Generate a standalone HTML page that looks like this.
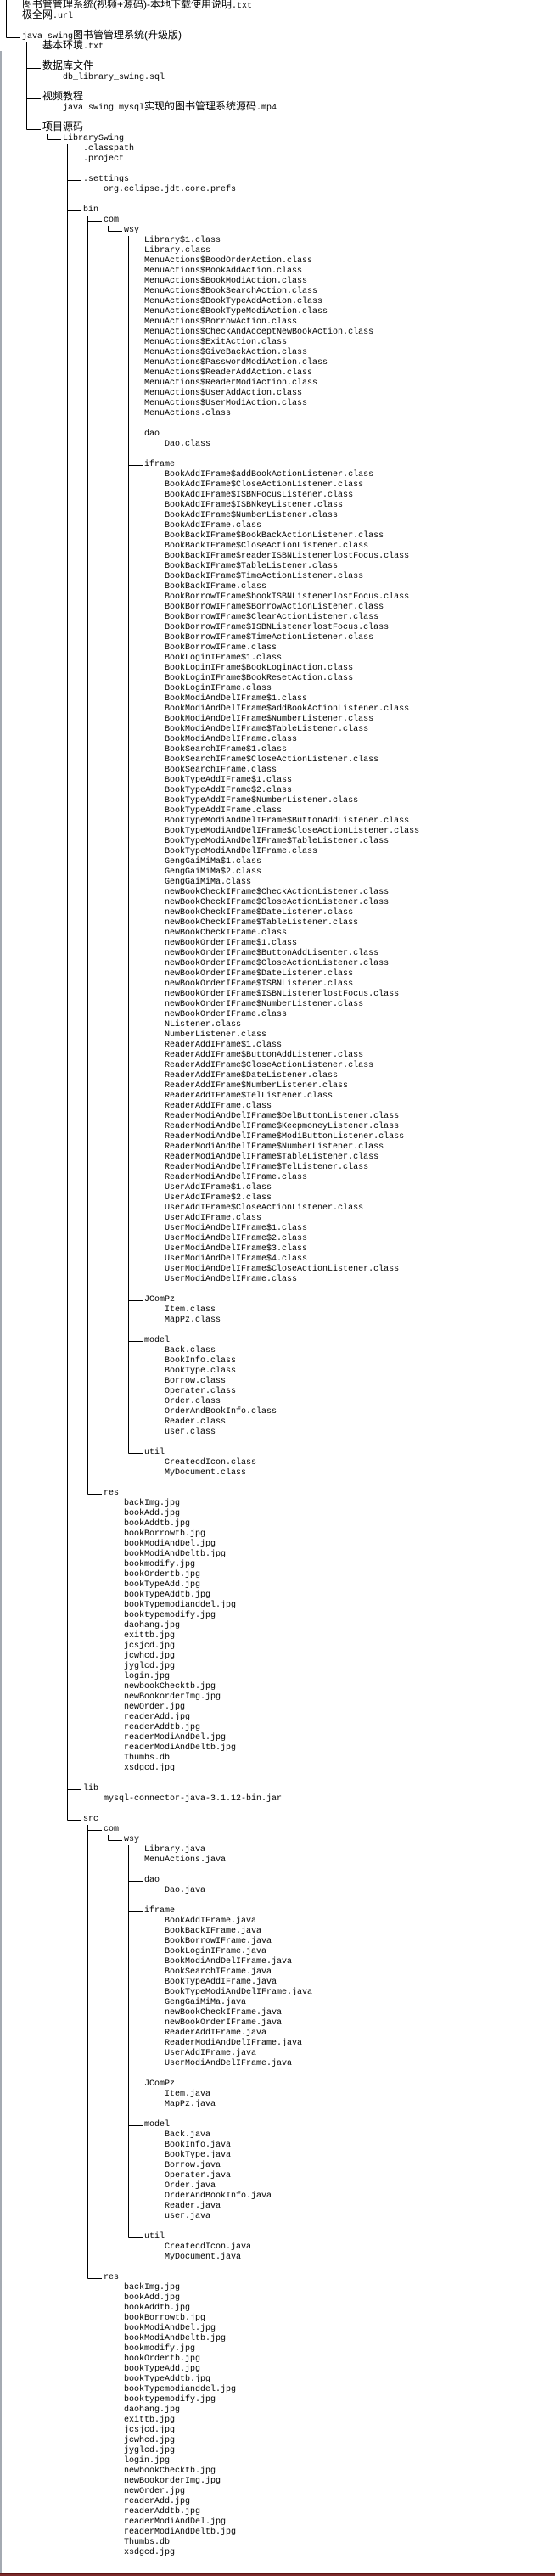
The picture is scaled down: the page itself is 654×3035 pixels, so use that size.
<!DOCTYPE html>
<html><head><meta charset="utf-8"><style>
html,body{margin:0;padding:0;background:#fff;}
body{width:654px;height:3035px;position:relative;overflow:hidden;}
pre{position:absolute;left:26px;top:2px;margin:0;font-family:"Liberation Mono",monospace;font-size:10px;line-height:12px;color:#000;}
.c{font-family:"Liberation Sans","Noto Sans CJK SC",sans-serif;font-size:12px;line-height:0;vertical-align:baseline;}
svg{position:absolute;left:0;top:0;}
</style></head><body>
<svg width="654" height="3035" shape-rendering="crispEdges">
<rect x="0" y="60" width="2" height="2971" fill="#a4aab2"/>
<g stroke="#000" stroke-width="1">
<line x1="7.5" y1="0" x2="7.5" y2="44.5"/><line x1="7.5" y1="44.5" x2="24" y2="44.5"/>
<line x1="31.5" y1="50" x2="31.5" y2="152.5"/>
<line x1="31.5" y1="80.5" x2="48" y2="80.5"/><line x1="31.5" y1="116.5" x2="48" y2="116.5"/><line x1="31.5" y1="152.5" x2="48" y2="152.5"/>
<line x1="55.5" y1="158" x2="55.5" y2="164.5"/><line x1="55.5" y1="164.5" x2="72" y2="164.5"/>
<line x1="79.5" y1="170" x2="79.5" y2="2144.5"/>
<line x1="79.5" y1="212.5" x2="96" y2="212.5"/><line x1="79.5" y1="248.5" x2="96" y2="248.5"/><line x1="79.5" y1="2108.5" x2="96" y2="2108.5"/><line x1="79.5" y1="2144.5" x2="96" y2="2144.5"/>
<line x1="103.5" y1="254" x2="103.5" y2="1760.5"/>
<line x1="103.5" y1="260.5" x2="120" y2="260.5"/><line x1="103.5" y1="1760.5" x2="120" y2="1760.5"/>
<line x1="127.5" y1="266" x2="127.5" y2="272.5"/><line x1="127.5" y1="272.5" x2="144" y2="272.5"/>
<line x1="151.5" y1="278" x2="151.5" y2="1712.5"/>
<line x1="151.5" y1="512.5" x2="168" y2="512.5"/><line x1="151.5" y1="548.5" x2="168" y2="548.5"/><line x1="151.5" y1="1532.5" x2="168" y2="1532.5"/><line x1="151.5" y1="1580.5" x2="168" y2="1580.5"/><line x1="151.5" y1="1712.5" x2="168" y2="1712.5"/>
<line x1="103.5" y1="2150" x2="103.5" y2="2684.5"/>
<line x1="103.5" y1="2156.5" x2="120" y2="2156.5"/><line x1="103.5" y1="2684.5" x2="120" y2="2684.5"/>
<line x1="127.5" y1="2162" x2="127.5" y2="2168.5"/><line x1="127.5" y1="2168.5" x2="144" y2="2168.5"/>
<line x1="151.5" y1="2174" x2="151.5" y2="2636.5"/>
<line x1="151.5" y1="2216.5" x2="168" y2="2216.5"/><line x1="151.5" y1="2252.5" x2="168" y2="2252.5"/><line x1="151.5" y1="2456.5" x2="168" y2="2456.5"/><line x1="151.5" y1="2504.5" x2="168" y2="2504.5"/><line x1="151.5" y1="2636.5" x2="168" y2="2636.5"/>
</g>
<rect x="0" y="3031" width="654" height="4" fill="#5c1414"/>
<rect x="0" y="3033" width="654" height="2" fill="#7a2a2a"/>
</svg>
<pre><span class="c">图书管管理系统(视频+源码)-本地下载使用说明</span>.txt
<span class="c">极全网</span>.url

java swing<span class="c">图书管管理系统(升级版)</span>
    <span class="c">基本环境</span>.txt

    <span class="c">数据库文件</span>
        db_library_swing.sql

    <span class="c">视频教程</span>
        java swing mysql<span class="c">实现的图书管理系统源码</span>.mp4

    <span class="c">项目源码</span>
        LibrarySwing
            .classpath
            .project

            .settings
                org.eclipse.jdt.core.prefs

            bin
                com
                    wsy
                        Library$1.class
                        Library.class
                        MenuActions$BoodOrderAction.class
                        MenuActions$BookAddAction.class
                        MenuActions$BookModiAction.class
                        MenuActions$BookSearchAction.class
                        MenuActions$BookTypeAddAction.class
                        MenuActions$BookTypeModiAction.class
                        MenuActions$BorrowAction.class
                        MenuActions$CheckAndAcceptNewBookAction.class
                        MenuActions$ExitAction.class
                        MenuActions$GiveBackAction.class
                        MenuActions$PasswordModiAction.class
                        MenuActions$ReaderAddAction.class
                        MenuActions$ReaderModiAction.class
                        MenuActions$UserAddAction.class
                        MenuActions$UserModiAction.class
                        MenuActions.class

                        dao
                            Dao.class

                        iframe
                            BookAddIFrame$addBookActionListener.class
                            BookAddIFrame$CloseActionListener.class
                            BookAddIFrame$ISBNFocusListener.class
                            BookAddIFrame$ISBNkeyListener.class
                            BookAddIFrame$NumberListener.class
                            BookAddIFrame.class
                            BookBackIFrame$BookBackActionListener.class
                            BookBackIFrame$CloseActionListener.class
                            BookBackIFrame$readerISBNListenerlostFocus.class
                            BookBackIFrame$TableListener.class
                            BookBackIFrame$TimeActionListener.class
                            BookBackIFrame.class
                            BookBorrowIFrame$bookISBNListenerlostFocus.class
                            BookBorrowIFrame$BorrowActionListener.class
                            BookBorrowIFrame$ClearActionListener.class
                            BookBorrowIFrame$ISBNListenerlostFocus.class
                            BookBorrowIFrame$TimeActionListener.class
                            BookBorrowIFrame.class
                            BookLoginIFrame$1.class
                            BookLoginIFrame$BookLoginAction.class
                            BookLoginIFrame$BookResetAction.class
                            BookLoginIFrame.class
                            BookModiAndDelIFrame$1.class
                            BookModiAndDelIFrame$addBookActionListener.class
                            BookModiAndDelIFrame$NumberListener.class
                            BookModiAndDelIFrame$TableListener.class
                            BookModiAndDelIFrame.class
                            BookSearchIFrame$1.class
                            BookSearchIFrame$CloseActionListener.class
                            BookSearchIFrame.class
                            BookTypeAddIFrame$1.class
                            BookTypeAddIFrame$2.class
                            BookTypeAddIFrame$NumberListener.class
                            BookTypeAddIFrame.class
                            BookTypeModiAndDelIFrame$ButtonAddListener.class
                            BookTypeModiAndDelIFrame$CloseActionListener.class
                            BookTypeModiAndDelIFrame$TableListener.class
                            BookTypeModiAndDelIFrame.class
                            GengGaiMiMa$1.class
                            GengGaiMiMa$2.class
                            GengGaiMiMa.class
                            newBookCheckIFrame$CheckActionListener.class
                            newBookCheckIFrame$CloseActionListener.class
                            newBookCheckIFrame$DateListener.class
                            newBookCheckIFrame$TableListener.class
                            newBookCheckIFrame.class
                            newBookOrderIFrame$1.class
                            newBookOrderIFrame$ButtonAddLisenter.class
                            newBookOrderIFrame$CloseActionListener.class
                            newBookOrderIFrame$DateListener.class
                            newBookOrderIFrame$ISBNListener.class
                            newBookOrderIFrame$ISBNListenerlostFocus.class
                            newBookOrderIFrame$NumberListener.class
                            newBookOrderIFrame.class
                            NListener.class
                            NumberListener.class
                            ReaderAddIFrame$1.class
                            ReaderAddIFrame$ButtonAddListener.class
                            ReaderAddIFrame$CloseActionListener.class
                            ReaderAddIFrame$DateListener.class
                            ReaderAddIFrame$NumberListener.class
                            ReaderAddIFrame$TelListener.class
                            ReaderAddIFrame.class
                            ReaderModiAndDelIFrame$DelButtonListener.class
                            ReaderModiAndDelIFrame$KeepmoneyListener.class
                            ReaderModiAndDelIFrame$ModiButtonListener.class
                            ReaderModiAndDelIFrame$NumberListener.class
                            ReaderModiAndDelIFrame$TableListener.class
                            ReaderModiAndDelIFrame$TelListener.class
                            ReaderModiAndDelIFrame.class
                            UserAddIFrame$1.class
                            UserAddIFrame$2.class
                            UserAddIFrame$CloseActionListener.class
                            UserAddIFrame.class
                            UserModiAndDelIFrame$1.class
                            UserModiAndDelIFrame$2.class
                            UserModiAndDelIFrame$3.class
                            UserModiAndDelIFrame$4.class
                            UserModiAndDelIFrame$CloseActionListener.class
                            UserModiAndDelIFrame.class

                        JComPz
                            Item.class
                            MapPz.class

                        model
                            Back.class
                            BookInfo.class
                            BookType.class
                            Borrow.class
                            Operater.class
                            Order.class
                            OrderAndBookInfo.class
                            Reader.class
                            user.class

                        util
                            CreatecdIcon.class
                            MyDocument.class

                res
                    backImg.jpg
                    bookAdd.jpg
                    bookAddtb.jpg
                    bookBorrowtb.jpg
                    bookModiAndDel.jpg
                    bookModiAndDeltb.jpg
                    bookmodify.jpg
                    bookOrdertb.jpg
                    bookTypeAdd.jpg
                    bookTypeAddtb.jpg
                    bookTypemodianddel.jpg
                    booktypemodify.jpg
                    daohang.jpg
                    exittb.jpg
                    jcsjcd.jpg
                    jcwhcd.jpg
                    jyglcd.jpg
                    login.jpg
                    newbookChecktb.jpg
                    newBookorderImg.jpg
                    newOrder.jpg
                    readerAdd.jpg
                    readerAddtb.jpg
                    readerModiAndDel.jpg
                    readerModiAndDeltb.jpg
                    Thumbs.db
                    xsdgcd.jpg

            lib
                mysql-connector-java-3.1.12-bin.jar

            src
                com
                    wsy
                        Library.java
                        MenuActions.java

                        dao
                            Dao.java

                        iframe
                            BookAddIFrame.java
                            BookBackIFrame.java
                            BookBorrowIFrame.java
                            BookLoginIFrame.java
                            BookModiAndDelIFrame.java
                            BookSearchIFrame.java
                            BookTypeAddIFrame.java
                            BookTypeModiAndDelIFrame.java
                            GengGaiMiMa.java
                            newBookCheckIFrame.java
                            newBookOrderIFrame.java
                            ReaderAddIFrame.java
                            ReaderModiAndDelIFrame.java
                            UserAddIFrame.java
                            UserModiAndDelIFrame.java

                        JComPz
                            Item.java
                            MapPz.java

                        model
                            Back.java
                            BookInfo.java
                            BookType.java
                            Borrow.java
                            Operater.java
                            Order.java
                            OrderAndBookInfo.java
                            Reader.java
                            user.java

                        util
                            CreatecdIcon.java
                            MyDocument.java

                res
                    backImg.jpg
                    bookAdd.jpg
                    bookAddtb.jpg
                    bookBorrowtb.jpg
                    bookModiAndDel.jpg
                    bookModiAndDeltb.jpg
                    bookmodify.jpg
                    bookOrdertb.jpg
                    bookTypeAdd.jpg
                    bookTypeAddtb.jpg
                    bookTypemodianddel.jpg
                    booktypemodify.jpg
                    daohang.jpg
                    exittb.jpg
                    jcsjcd.jpg
                    jcwhcd.jpg
                    jyglcd.jpg
                    login.jpg
                    newbookChecktb.jpg
                    newBookorderImg.jpg
                    newOrder.jpg
                    readerAdd.jpg
                    readerAddtb.jpg
                    readerModiAndDel.jpg
                    readerModiAndDeltb.jpg
                    Thumbs.db
                    xsdgcd.jpg</pre>
</body></html>
